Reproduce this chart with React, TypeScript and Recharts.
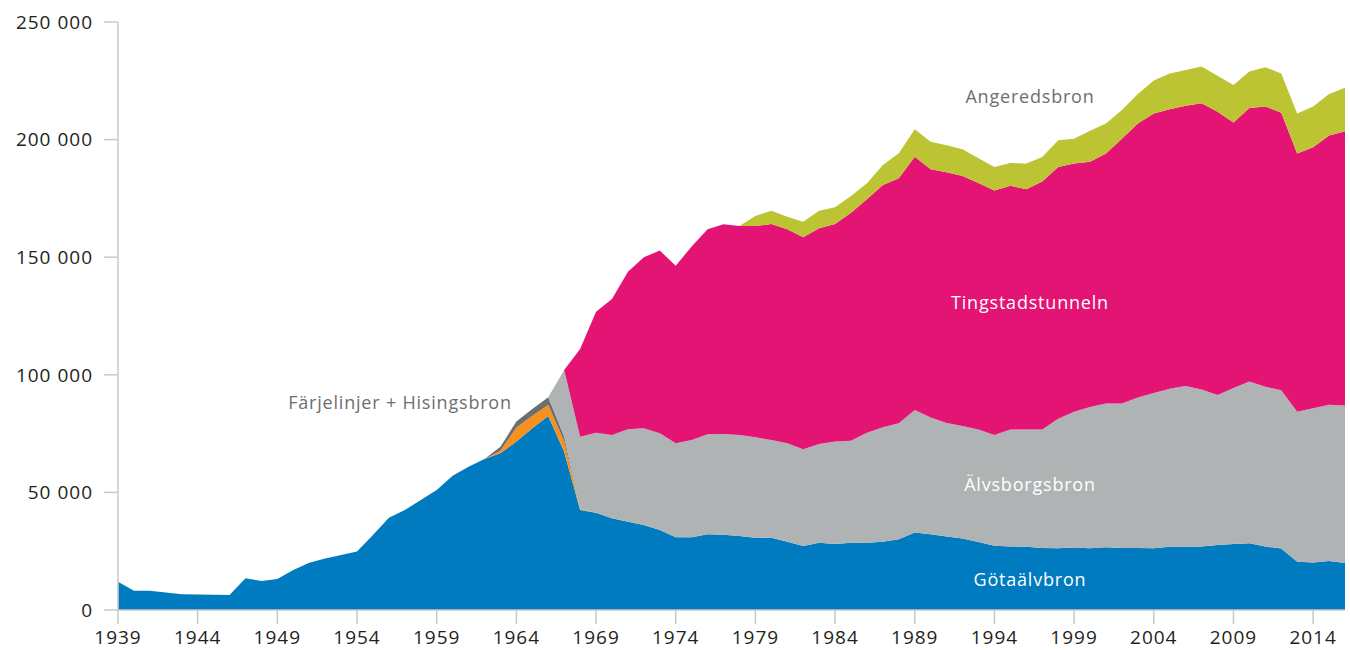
import React from "react";
import { AreaChart, Area, XAxis, YAxis } from "recharts";

const years = [
  1939, 1940, 1941, 1942, 1943, 1944, 1945, 1946, 1947, 1948,
  1949, 1950, 1951, 1952, 1953, 1954, 1955, 1956, 1957, 1958,
  1959, 1960, 1961, 1962, 1963, 1964, 1965, 1966, 1967, 1968,
  1969, 1970, 1971, 1972, 1973, 1974, 1975, 1976, 1977, 1978,
  1979, 1980, 1981, 1982, 1983, 1984, 1985, 1986, 1987, 1988,
  1989, 1990, 1991, 1992, 1993, 1994, 1995, 1996, 1997, 1998,
  1999, 2000, 2001, 2002, 2003, 2004, 2005, 2006, 2007, 2008,
  2009, 2010, 2011, 2012, 2013, 2014, 2015, 2016,
];

const gotaalvbron = [
  12000, 8200, 8200, 7400, 6700, 6600, 6500, 6400, 13500, 12300,
  13200, 17000, 20100, 21900, 23400, 24900, 31900, 39200, 42500, 46800,
  51000, 57100, 60900, 64200, 66600, 71600, 77300, 82500, 67300, 42500,
  41400, 39000, 37500, 36100, 34000, 30900, 30900, 32200, 32000, 31500,
  30700, 30700, 29000, 27200, 28600, 28100, 28600, 28600, 29000, 30100,
  32900, 32200, 31300, 30400, 28900, 27300, 27000, 26900, 26400, 26300,
  26600, 26300, 26700, 26400, 26400, 26300, 26900, 26900, 27000, 27600,
  28100, 28400, 27000, 26100, 20500, 20200, 20800, 20000,
];

const farjelinjer = [
  0, 0, 0, 0, 0, 0, 0, 0, 0, 0,
  0, 0, 0, 0, 0, 0, 0, 0, 0, 0,
  0, 0, 0, 0, 1100, 6000, 5300, 4700, 4500, 300,
  0, 0, 0, 0, 0, 0, 0, 0, 0, 0,
  0, 0, 0, 0, 0, 0, 0, 0, 0, 0,
  0, 0, 0, 0, 0, 0, 0, 0, 0, 0,
  0, 0, 0, 0, 0, 0, 0, 0, 0, 0,
  0, 0, 0, 0, 0, 0, 0, 0,
];

const hisingsbron = [
  0, 0, 0, 0, 0, 0, 0, 0, 0, 0,
  0, 0, 0, 0, 0, 0, 0, 0, 0, 0,
  0, 0, 0, 0, 1700, 2500, 2900, 3300, 2000, 0,
  0, 0, 0, 0, 0, 0, 0, 0, 0, 0,
  0, 0, 0, 0, 0, 0, 0, 0, 0, 0,
  0, 0, 0, 0, 0, 0, 0, 0, 0, 0,
  0, 0, 0, 0, 0, 0, 0, 0, 0, 0,
  0, 0, 0, 0, 0, 0, 0, 0,
];

const alvsborgsbron = [
  0, 0, 0, 0, 0, 0, 0, 0, 0, 0,
  0, 0, 0, 0, 0, 0, 0, 0, 0, 0,
  0, 0, 0, 0, 0, 0, 0, 0, 28200, 30900,
  34000, 35400, 39300, 41200, 41100, 40000, 41400, 42500, 42800, 42900,
  42700, 41600, 41900, 41100, 42000, 43500, 43400, 46800, 48700, 49300,
  52100, 49600, 48200, 47800, 47800, 47100, 49700, 49800, 50300, 55000,
  57700, 60000, 61100, 61400, 64000, 66000, 67200, 68300, 66800, 63800,
  66300, 68800, 67900, 67300, 63800, 65600, 66500, 66900,
];

const tingstadstunneln = [
  0, 0, 0, 0, 0, 0, 0, 0, 0, 0,
  0, 0, 0, 0, 0, 0, 0, 0, 0, 0,
  0, 0, 0, 0, 0, 0, 0, 0, 0, 37300,
  51400, 57800, 67000, 72700, 77700, 75500, 82200, 87200, 89200, 88900,
  89900, 91800, 91000, 90200, 91700, 92500, 96900, 99200, 103000, 104200,
  107700, 105600, 106600, 106300, 104800, 104000, 103700, 102200, 105500, 107000,
  105500, 104300, 106300, 112600, 116400, 118800, 118800, 119200, 121700, 120400,
  112900, 116200, 119200, 118000, 109800, 110900, 114400, 116600,
];

const angeredsbron = [
  0, 0, 0, 0, 0, 0, 0, 0, 0, 0,
  0, 0, 0, 0, 0, 0, 0, 0, 0, 0,
  0, 0, 0, 0, 0, 0, 0, 0, 0, 0,
  0, 0, 0, 0, 0, 0, 0, 0, 0, 0,
  4200, 5700, 5300, 6600, 7500, 7100, 7100, 6800, 8500, 10600,
  11700, 11700, 11500, 11400, 10600, 9900, 9700, 10900, 10400, 11400,
  10600, 13200, 12700, 12200, 12600, 14000, 15200, 15200, 15600, 15300,
  15900, 15600, 16700, 16700, 17000, 17400, 17700, 18500,
];

const xTicks = [1939, 1944, 1949, 1954, 1959, 1964, 1969, 1974, 1979, 1984, 1989, 1994, 1999, 2004, 2009, 2014];
const yTicks = [0, 50000, 100000, 150000, 200000, 250000];

const data = years.map((year, i) => ({
  year,
  gotaalvbron: gotaalvbron[i],
  farjelinjer: farjelinjer[i],
  hisingsbron: hisingsbron[i],
  alvsborgsbron: alvsborgsbron[i],
  tingstadstunneln: tingstadstunneln[i],
  angeredsbron: angeredsbron[i],
}));

const FONT = "'Open Sans', sans-serif";
const AXIS_COLOR = "#c8c8c8";
const TICK_STYLE = { fontSize: 19, fill: "#231f20", fontFamily: FONT, letterSpacing: 1 };

const formatThousands = (v: number) =>
  v === 0 ? "0" : `${Math.floor(v / 1000)} ${String(v % 1000).padStart(3, "0")}`;

const series = [
  { key: "gotaalvbron", color: "#007bc0" },
  { key: "farjelinjer", color: "#f7901e" },
  { key: "hisingsbron", color: "#6d6e70" },
  { key: "alvsborgsbron", color: "#b0b3b4" },
  { key: "tingstadstunneln", color: "#e31474" },
  { key: "angeredsbron", color: "#bdc433" },
];

function AreaLabel({ x, y, text, color }: { x: number; y: number; text: string; color: string }) {
  return (
    <div
      style={{
        position: "absolute",
        left: x,
        top: y,
        transform: "translate(-50%, -50%)",
        fontFamily: FONT,
        fontSize: 18,
        letterSpacing: 0.8,
        color,
        whiteSpace: "nowrap",
        pointerEvents: "none",
      }}
    >
      {text}
    </div>
  );
}

export default function App() {
  return (
    <div style={{ position: "absolute", left: 0, top: 0, width: 1350, height: 650, background: "#fff" }}>
      <AreaChart width={1350} height={650} data={data} margin={{ top: 22, right: 5, bottom: 0, left: 0 }}>
        <XAxis
          dataKey="year"
          type="number"
          domain={[1939, 2016]}
          ticks={xTicks}
          tick={TICK_STYLE}
          tickSize={14}
          tickMargin={7}
          height={40}
          axisLine={{ stroke: AXIS_COLOR, strokeWidth: 1.5 }}
          tickLine={{ stroke: AXIS_COLOR, strokeWidth: 1.5 }}
        />
        <YAxis
          type="number"
          domain={[0, 250000]}
          ticks={yTicks}
          tickFormatter={formatThousands}
          tick={TICK_STYLE}
          tickSize={14}
          tickMargin={11}
          width={118}
          axisLine={{ stroke: AXIS_COLOR, strokeWidth: 1.5 }}
          tickLine={{ stroke: AXIS_COLOR, strokeWidth: 1.5 }}
        />
        {series.map((s) => (
          <Area
            key={s.key}
            dataKey={s.key}
            stackId="a"
            type="linear"
            stroke="none"
            fill={s.color}
            fillOpacity={1}
            isAnimationActive={false}
            dot={false}
            activeDot={false}
          />
        ))}
      </AreaChart>
      <AreaLabel x={1030} y={96} text="Angeredsbron" color="#6d6e71" />
      <AreaLabel x={1030} y={302} text="Tingstadstunneln" color="#ffffff" />
      <AreaLabel x={1030} y={484} text="Älvsborgsbron" color="#ffffff" />
      <AreaLabel x={1030} y={579} text="Götaälvbron" color="#ffffff" />
      <AreaLabel x={400} y={402} text="Färjelinjer + Hisingsbron" color="#6d6e71" />
    </div>
  );
}
